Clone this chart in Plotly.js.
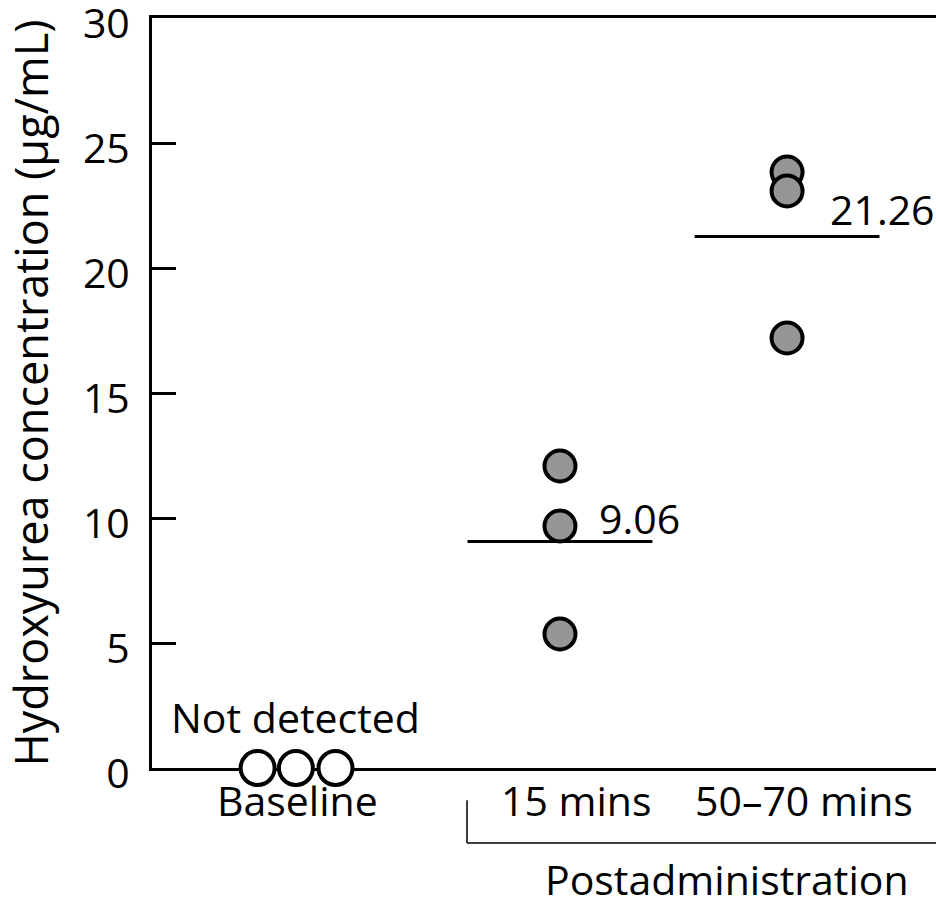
<!DOCTYPE html>
<html>
<head>
<meta charset="utf-8">
<script src="https://cdn.plot.ly/plotly-3.0.1.min.js"></script>
<style>html,body{margin:0;padding:0;background:#fff;}#chart{width:936px;height:908px;}</style>
</head>
<body>
<div id="chart"></div>
<script>
// Group labels and positions along the x axis
const groupLabels = ["Baseline", "15 mins", "50\u201370 mins"];
const groupPos = [0, 1, 1.86];
// Individual measurements (μg/mL)
const baselineVals = [0, 0, 0];
const min15Vals = [12.08, 9.68, 5.36];
const min5070Vals = [23.84, 23.08, 17.2];
// Means shown
const meanLabels = ["9.06", "21.26"];
const means = [9.06, 21.26];
// small horizontal jitter so the baseline circles sit side by side
const baselineJitter = [-0.145, 0, 0.15];
const yTicks = [0, 5, 10, 15, 20, 25, 30];

const FONT = "Open Sans, Noto Sans, DejaVu Sans, sans-serif";
const FS = 41;
const labelShift = [2, 17, 17];

const traces = [
  {
    type: "scatter", mode: "markers", cliponaxis: false,
    x: baselineVals.map((v, i) => groupPos[0] + baselineJitter[i]),
    y: baselineVals,
    marker: {size: 34, color: "#ffffff", line: {color: "#000", width: 4}},
    hoverinfo: "skip", showlegend: false
  },
  {
    type: "scatter", mode: "lines", cliponaxis: false,
    x: [groupPos[1] - 0.35, groupPos[1] + 0.35], y: [means[0], means[0]],
    line: {color: "#000", width: 3}, showlegend: false, hoverinfo: "skip"
  },
  {
    type: "scatter", mode: "lines", cliponaxis: false,
    x: [groupPos[2] - 0.35, groupPos[2] + 0.35], y: [means[1], means[1]],
    line: {color: "#000", width: 3}, showlegend: false, hoverinfo: "skip"
  },
  {
    type: "scatter", mode: "markers", cliponaxis: false,
    x: min15Vals.map(() => groupPos[1]), y: min15Vals,
    marker: {size: 31, color: "#969696", line: {color: "#000", width: 4}},
    showlegend: false
  },
  {
    type: "scatter", mode: "markers", cliponaxis: false,
    x: min5070Vals.map(() => groupPos[2]), y: min5070Vals,
    marker: {size: 31, color: "#969696", line: {color: "#000", width: 4}},
    showlegend: false
  }
];

const annotations = [
  {x: groupPos[1] + 0.14, y: means[0] + 0.95, xref: "x", yref: "y", text: meanLabels[0], showarrow: false, xanchor: "left", yanchor: "middle", font: {family: FONT, size: FS}},
  {x: groupPos[2] + 0.155, y: means[1] + 1.1, xref: "x", yref: "y", text: meanLabels[1], showarrow: false, xanchor: "left", yanchor: "middle", font: {family: FONT, size: FS}},
  {x: groupPos[0], y: 2.04, xref: "x", yref: "y", text: "Not detected", showarrow: false, xanchor: "center", yanchor: "middle", font: {family: FONT, size: FS}},
  {x: 0.733, y: -0.148, xref: "paper", yref: "paper", text: "Postadministration", showarrow: false, xanchor: "center", yanchor: "middle", font: {family: FONT, size: FS}}
];
groupLabels.forEach((lab, i) => {
  annotations.push({x: groupPos[i], y: -0.043, xref: "x", yref: "paper", text: lab, showarrow: false,
    xanchor: "center", yanchor: "middle", xshift: labelShift[i], font: {family: FONT, size: FS}});
});

const layout = {
  width: 936, height: 908,
  margin: {l: 152, r: 0, t: 18, b: 140},
  paper_bgcolor: "#fff", plot_bgcolor: "#fff",
  font: {family: FONT, size: FS, color: "#000"},
  showlegend: false,
  xaxis: {
    range: [-0.545, 2.424],
    showgrid: false, zeroline: false,
    showline: true, linecolor: "#000", linewidth: 3, mirror: true,
    showticklabels: false, ticks: "",
    layer: "below traces", fixedrange: true
  },
  yaxis: {
    range: [0, 30],
    showgrid: false, zeroline: false,
    showline: true, linecolor: "#000", linewidth: 3,
    tickmode: "array", tickvals: yTicks,
    ticks: "inside", ticklen: 24, tickwidth: 3, tickcolor: "#000",
    ticklabelstandoff: 11, ticklabelshift: 6, ticklabeloverflow: "allow",
    tickfont: {family: FONT, size: FS, color: "#000"},
    title: {text: "Hydroxyurea concentration (\u03bcg/mL)", font: {family: FONT, size: 45, color: "#000"}, standoff: 22},
    layer: "below traces", fixedrange: true
  },
  annotations: annotations,
  shapes: [
    {type: "line", xref: "paper", yref: "paper", x0: 0.4018, x1: 0.4018, y0: -0.043, y1: -0.1, line: {color: "#000", width: 1.5}},
    {type: "line", xref: "paper", yref: "paper", x0: 0.4018, x1: 1.0, y0: -0.1, y1: -0.1, line: {color: "#000", width: 1.5}}
  ]
};

Plotly.newPlot("chart", traces, layout, {displayModeBar: false, staticPlot: true});
</script>
</body>
</html>
